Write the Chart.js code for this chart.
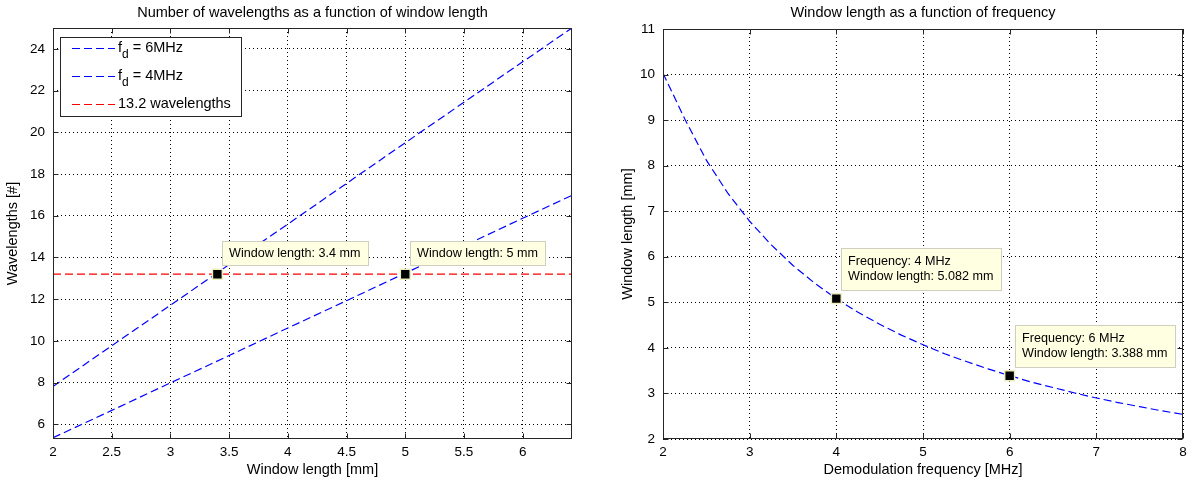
<!DOCTYPE html>
<html>
<head>
<meta charset="utf-8">
<title>Window length</title>
<script src="https://cdn.jsdelivr.net/npm/chart.js@4"></script>
<style>
  html, body { margin: 0; padding: 0; background: #fff; }
  #wrap { position: relative; width: 1196px; height: 483px; }
  .panel { position: absolute; top: 0; }
  #left { left: 0; }
  #right { left: 600px; }
</style>
</head>
<body>
<div id="wrap">
  <div class="panel" id="left"><canvas id="leftChart" width="600" height="483"></canvas></div>
  <div class="panel" id="right"><canvas id="rightChart" width="596" height="483"></canvas></div>
</div>
<script>
const FONT = "'Liberation Sans', Arial, Helvetica, sans-serif";
const TEXT_SIZE = 14.5;
const TICK_SIZE = 13.5;
const TIP_SIZE = 12.6;

// number of wavelengths vs window length
const windowLenMm = [2, 2.5, 3, 3.5, 4, 4.5, 5, 5.5, 6, 6.42];
const wavelengths6MHz = [7.82, 9.77, 11.71, 13.66, 15.6, 17.55, 19.5, 21.44, 23.38, 25.0];
const wavelengths4MHz = [5.36, 6.67, 7.99, 9.30, 10.62, 11.93, 13.25, 14.56, 15.88, 16.98];
const targetWavelengths = 13.2;
const leftXTicks = [2, 2.5, 3, 3.5, 4, 4.5, 5, 5.5, 6];
const leftYTicks = [6, 8, 10, 12, 14, 16, 18, 20, 22, 24];
const leftTips = [[3.4, 13.2], [5, 13.2]];

// window length vs demodulation frequency
const freqMHz = [2, 2.25, 2.5, 2.75, 3, 3.25, 3.5, 3.75, 4, 4.25, 4.5, 4.75, 5, 5.25, 5.5, 5.75, 6, 6.25, 6.5, 6.75, 7, 7.25, 7.5, 7.75, 8];
const windowAtFreq = [10.03, 9.03, 8.12, 7.39, 6.78, 6.26, 5.81, 5.42, 5.08, 4.78, 4.52, 4.28, 4.07, 3.87, 3.70, 3.54, 3.39, 3.25, 3.13, 3.01, 2.90, 2.80, 2.71, 2.62, 2.54];
const rightXTicks = [2, 3, 4, 5, 6, 7, 8];
const rightYTicks = [2, 3, 4, 5, 6, 7, 8, 9, 10, 11];
const rightTips = [[4, 5.082], [6, 3.388]];

const BLUE = '#0000ff';
const RED = '#ff0000';
const DASH = [8, 4];

const pts = (xs, ys) => xs.map((x, i) => ({ x, y: ys[i] }));

function axis(min, max, ticks, title, isX, size, titlePad) {
  return {
    type: 'linear',
    min, max,
    afterBuildTicks: s => { s.ticks = ticks.map(v => ({ value: v })); },
    afterFit: s => { if (isX) s.height = size; else s.width = size; },
    grid: { color: '#000', lineWidth: 1, drawTicks: false },
    border: { display: false, dash: [1, 3] },
    ticks: {
      color: '#000', font: { family: FONT, size: TICK_SIZE },
      padding: isX ? 5 : 8, autoSkip: false, maxRotation: 0,
      callback: v => String(v)
    },
    title: {
      display: true, text: title, color: '#000',
      font: { family: FONT, size: TEXT_SIZE },
      padding: isX ? { top: 0, bottom: 4 } : { top: titlePad, bottom: 0 }
    }
  };
}

// axes box with inward tick marks, plus the panel title
const framePlugin = {
  id: 'frame',
  afterDraw(chart, args, opts) {
    const { ctx, chartArea: a, scales: { x, y } } = chart;
    const L = Math.round(a.left) + 0.5, R = Math.round(a.right) - 0.5;
    const T = Math.round(a.top) + 0.5, B = Math.round(a.bottom) - 0.5;
    ctx.save();
    ctx.strokeStyle = '#262626';
    ctx.lineWidth = 1;
    ctx.setLineDash([]);
    ctx.strokeRect(L, T, R - L, B - T);
    ctx.beginPath();
    x.ticks.forEach(t => {
      const px = Math.round(x.getPixelForValue(t.value)) + 0.5;
      ctx.moveTo(px, B); ctx.lineTo(px, B - 5);
      ctx.moveTo(px, T); ctx.lineTo(px, T + 5);
    });
    y.ticks.forEach(t => {
      const py = Math.round(y.getPixelForValue(t.value)) + 0.5;
      ctx.moveTo(L, py); ctx.lineTo(L + 5, py);
      ctx.moveTo(R, py); ctx.lineTo(R - 5, py);
    });
    ctx.stroke();
    ctx.fillStyle = '#000';
    ctx.font = `${TEXT_SIZE}px ${FONT}`;
    ctx.textAlign = 'center';
    ctx.textBaseline = 'middle';
    ctx.fillText(opts.title, (a.left + a.right) / 2, 13);
    ctx.restore();
  }
};

// boxed legend in the upper-left corner, labels may carry a "_x" subscript
const boxLegendPlugin = {
  id: 'boxLegend',
  afterDraw(chart, args, opts) {
    if (!opts.show) return;
    const { ctx, chartArea: a } = chart;
    const items = chart.data.datasets.filter(d => d.label);
    const bx = Math.round(a.left) + 7, by = Math.round(a.top) + 9, bw = 182, bh = 80;
    ctx.save();
    ctx.fillStyle = '#fff';
    ctx.fillRect(bx, by, bw, bh);
    ctx.strokeStyle = '#262626';
    ctx.lineWidth = 1;
    ctx.strokeRect(bx + 0.5, by + 0.5, bw - 1, bh - 1);
    items.forEach((d, i) => {
      const cy = by + 11 + i * 28;
      ctx.strokeStyle = d.borderColor;
      ctx.lineWidth = 1.2;
      ctx.setLineDash(DASH);
      ctx.beginPath();
      ctx.moveTo(bx + 12, cy + 0.5);
      ctx.lineTo(bx + 55, cy + 0.5);
      ctx.stroke();
      ctx.setLineDash([]);
      ctx.fillStyle = '#000';
      ctx.textAlign = 'left';
      ctx.textBaseline = 'middle';
      const font = `${TEXT_SIZE}px ${FONT}`, subFont = `12px ${FONT}`;
      let tx = bx + 58;
      const m = d.label.match(/^(.*?)_(\w)(.*)$/);
      ctx.font = font;
      if (m) {
        ctx.fillText(m[1], tx, cy);
        tx += ctx.measureText(m[1]).width;
        ctx.font = subFont;
        ctx.fillText(m[2], tx, cy + 7);
        tx += ctx.measureText(m[2]).width;
        ctx.font = font;
        ctx.fillText(m[3], tx, cy);
      } else {
        ctx.fillText(d.label, tx, cy);
      }
    });
    ctx.restore();
  }
};

// yellow data-tip boxes next to the marked points
const dataTipPlugin = {
  id: 'dataTips',
  afterDraw(chart, args, opts) {
    if (!opts.tips) return;
    const { ctx, scales: { x, y } } = chart;
    ctx.save();
    ctx.font = `${TIP_SIZE}px ${FONT}`;
    opts.tips.forEach(tip => {
      const mx = x.getPixelForValue(tip.x), my = y.getPixelForValue(tip.y);
      const n = tip.lines.length;
      const w = Math.round(Math.max(...tip.lines.map(l => ctx.measureText(l).width)) + 15);
      const h = n === 1 ? 25 : 43;
      const left = Math.round(mx + 5), top = Math.round(my - 8 - h);
      ctx.fillStyle = '#ffffe1';
      ctx.fillRect(left, top, w, h);
      ctx.strokeStyle = '#cfcfbf';
      ctx.lineWidth = 1;
      ctx.strokeRect(left + 0.5, top + 0.5, w - 1, h - 1);
      ctx.fillStyle = '#000';
      ctx.textAlign = 'left';
      ctx.textBaseline = 'middle';
      tip.lines.forEach((l, i) => {
        ctx.fillText(l, left + 7, top + h / 2 + (i - (n - 1) / 2) * 15);
      });
    });
    ctx.restore();
  }
};

Chart.register(framePlugin, boxLegendPlugin, dataTipPlugin);

const tipDataset = tips => ({
  data: tips.map(([x, y]) => ({ x, y })),
  showLine: false,
  pointStyle: 'rect',
  pointRadius: 7,
  pointBackgroundColor: '#000',
  pointBorderColor: '#eeeec0',
  pointBorderWidth: 1.5,
  order: -1
});

const lineDataset = (label, data, color) => ({
  label, data,
  showLine: true,
  borderColor: color,
  borderWidth: 1.2,
  borderDash: DASH,
  pointRadius: 0,
  tension: 0
});

const common = {
  responsive: false,
  animation: false,
  events: []
};

new Chart(document.getElementById('leftChart'), {
  type: 'scatter',
  data: {
    datasets: [
      tipDataset(leftTips),
      lineDataset('f_d = 6MHz', pts(windowLenMm, wavelengths6MHz), BLUE),
      lineDataset('f_d = 4MHz', pts(windowLenMm, wavelengths4MHz), BLUE),
      lineDataset(targetWavelengths + ' wavelengths',
        [{ x: windowLenMm[0], y: targetWavelengths }, { x: windowLenMm[windowLenMm.length - 1], y: targetWavelengths }], RED)
    ]
  },
  options: {
    ...common,
    layout: { padding: { left: 0, top: 28, right: 28, bottom: 0 } },
    scales: {
      x: axis(2, 6.42, leftXTicks, 'Window length [mm]', true, 44),
      y: axis(5.3, 25, leftYTicks, 'Wavelengths [#]', false, 53, 4)
    },
    plugins: {
      legend: { display: false },
      tooltip: { enabled: false },
      frame: { title: 'Number of wavelengths as a function of window length' },
      boxLegend: { show: true },
      dataTips: { tips: leftTips.map(([x, y]) => ({ x, y, lines: [`Window length: ${x} mm`] })) }
    }
  }
});

new Chart(document.getElementById('rightChart'), {
  type: 'scatter',
  data: {
    datasets: [
      tipDataset(rightTips),
      lineDataset('', pts(freqMHz, windowAtFreq), BLUE)
    ]
  },
  options: {
    ...common,
    layout: { padding: { left: 0, top: 29, right: 13, bottom: 0 } },
    scales: {
      x: axis(2, 8, rightXTicks, 'Demodulation frequency [MHz]', true, 44),
      y: axis(2, 11, rightYTicks, 'Window length [mm]', false, 63, 19)
    },
    plugins: {
      legend: { display: false },
      tooltip: { enabled: false },
      frame: { title: 'Window length as a function of frequency' },
      boxLegend: { show: false },
      dataTips: {
        tips: rightTips.map(([x, y]) => ({
          x, y, lines: [`Frequency: ${x} MHz`, `Window length: ${y.toFixed(3)} mm`]
        }))
      }
    }
  }
});
</script>
</body>
</html>
